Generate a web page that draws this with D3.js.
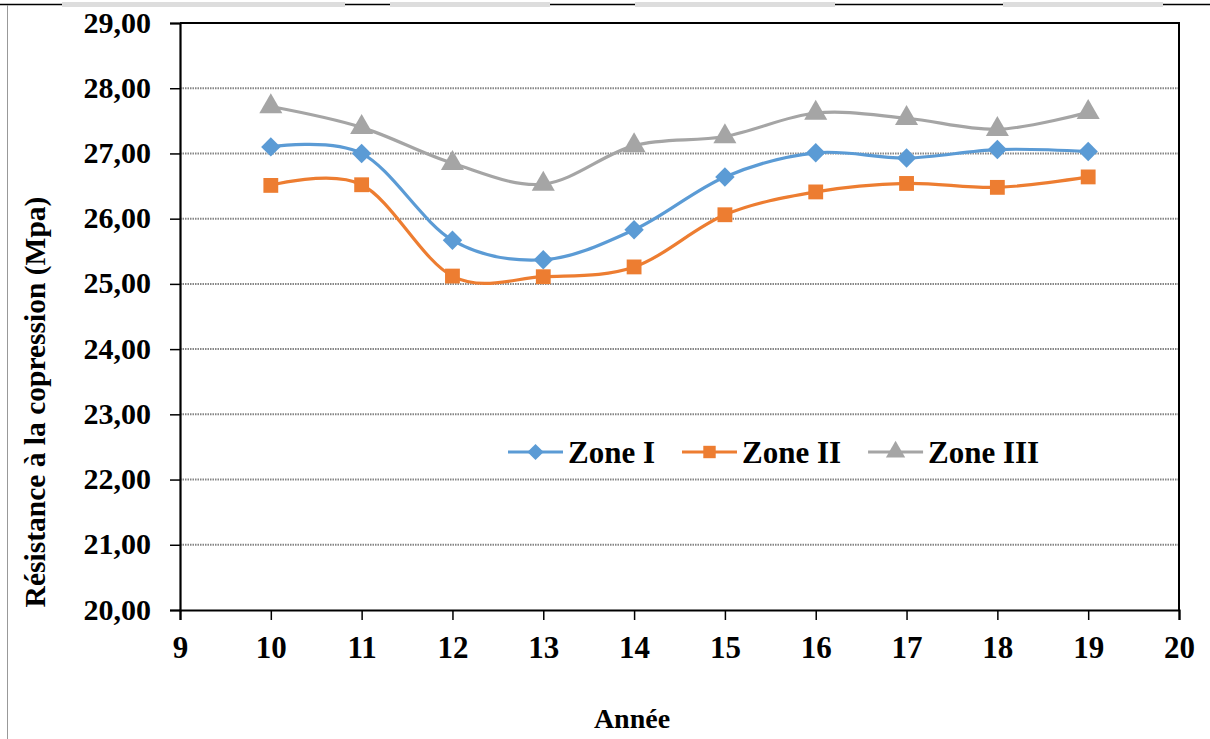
<!DOCTYPE html>
<html>
<head>
<meta charset="utf-8">
<script src="https://cdn.jsdelivr.net/npm/d3@7"></script>
<style>
  html, body { margin: 0; padding: 0; background: #fff; }
  svg { display: block; }
  text { font-family: "Liberation Serif", "Times New Roman", serif; font-weight: bold; fill: #000; }
</style>
</head>
<body>
<svg id="chart" width="1210" height="739"></svg>
<script>
// Years on the x axis and compressive strength per zone (MPa)
const years = [10, 11, 12, 13, 14, 15, 16, 17, 18, 19];
const zoneI   = [27.10, 27.00, 25.67, 25.37, 25.83, 26.64, 27.01, 26.93, 27.06, 27.03];
const zoneII  = [26.51, 26.52, 25.12, 25.11, 25.26, 26.06, 26.41, 26.54, 26.48, 26.64];
const zoneIII = [27.72, 27.40, 26.85, 26.53, 27.12, 27.26, 27.62, 27.54, 27.37, 27.63];
const seriesNames = ["Zone I", "Zone II", "Zone III"];
const xTicks = [9, 10, 11, 12, 13, 14, 15, 16, 17, 18, 19, 20];
const yTicks = [20, 21, 22, 23, 24, 25, 26, 27, 28, 29];

const series = [
  { name: seriesNames[0], values: zoneI,   color: "#5B9BD5", symbol: d3.symbolDiamond2, size: 240 },
  { name: seriesNames[1], values: zoneII,  color: "#ED7D31", symbol: d3.symbolSquare,   size: 220 },
  { name: seriesNames[2], values: zoneIII, color: "#A5A5A5", symbol: d3.symbolTriangle, size: 230 }
];

const svg = d3.select("#chart");
const plot = { left: 180, right: 1179, top: 23, bottom: 610 };

const x = d3.scaleLinear().domain([9, 20]).range([plot.left, plot.right]);
const y = d3.scaleLinear().domain([20, 29]).range([plot.bottom, plot.top]);
const fmt = v => d3.format(".2f")(v).replace(".", ",");

// outer frame fragments
svg.append("line").attr("x1", 0).attr("x2", 1210).attr("y1", 4.5).attr("y2", 4.5)
  .attr("stroke", "#000").attr("stroke-width", 1.5);
[[62, 345], [390, 550], [635, 835], [1003, 1163]].forEach(([a, b]) => {
  svg.append("rect").attr("x", a).attr("y", 2).attr("width", b - a).attr("height", 5).attr("fill", "#ddd");
});
svg.append("line").attr("x1", 7.5).attr("x2", 7.5).attr("y1", 5).attr("y2", 739)
  .attr("stroke", "#999").attr("stroke-width", 1);

// horizontal gridlines
svg.append("g").selectAll("line")
  .data(yTicks.filter(t => t > 20 && t < 29))
  .join("line")
  .attr("x1", plot.left).attr("x2", plot.right)
  .attr("y1", d => y(d)).attr("y2", d => y(d))
  .attr("stroke", "#858585").attr("stroke-width", 2).attr("stroke-dasharray", "1.5,1");

// plot frame (top and right)
svg.append("path")
  .attr("d", `M${plot.left},${plot.top}H${plot.right}V${plot.bottom}`)
  .attr("fill", "none").attr("stroke", "#000").attr("stroke-width", 2);

// y axis
const yAxis = svg.append("g").attr("transform", `translate(${plot.left},0)`)
  .call(d3.axisLeft(y).tickValues(yTicks).tickFormat(fmt).tickSize(10).tickPadding(19));
yAxis.select(".domain").attr("stroke", "#000").attr("stroke-width", 2.2);
yAxis.selectAll(".tick line").attr("stroke", "#000").attr("stroke-width", 1.5);
yAxis.selectAll("text").style("font-size", "30px").style("font-family", "Liberation Serif").style("font-weight", "bold").attr("dy", "0.3em");

// x axis
const xAxis = svg.append("g").attr("transform", `translate(0,${plot.bottom})`)
  .call(d3.axisBottom(x).tickValues(xTicks).tickFormat(d3.format("d")).tickSize(10).tickPadding(16));
xAxis.select(".domain").attr("stroke", "#000").attr("stroke-width", 2.2);
xAxis.selectAll(".tick line").attr("stroke", "#000").attr("stroke-width", 1.5);
xAxis.selectAll("text").style("font-size", "31px").style("font-family", "Liberation Serif").style("font-weight", "bold").attr("dy", "0.71em");

// axis titles
svg.append("text").attr("x", 632).attr("y", 728).attr("text-anchor", "middle")
  .style("font-size", "28px").text("Année");
svg.append("text").attr("transform", "translate(45,402) rotate(-90)").attr("text-anchor", "middle")
  .style("font-size", "29.5px").text("Résistance à la copression (Mpa)");

// smoothed series lines and markers
const line = d3.line().x((d, i) => x(years[i])).y(d => y(d)).curve(d3.curveCatmullRom.alpha(0));

series.forEach(s => {
  svg.append("path").datum(s.values)
    .attr("d", line).attr("fill", "none")
    .attr("stroke", s.color).attr("stroke-width", 3.2);
});
series.forEach(s => {
  svg.append("g").selectAll("path")
    .data(s.values)
    .join("path")
    .attr("transform", (d, i) => `translate(${x(years[i])},${y(d)})`)
    .attr("d", d3.symbol().type(s.symbol).size(s.size))
    .attr("fill", s.color);
});

// legend
const legend = svg.append("g");
let lx = 508;
const ly = 452;
series.forEach(s => {
  legend.append("line").attr("x1", lx).attr("x2", lx + 55).attr("y1", ly).attr("y2", ly)
    .attr("stroke", s.color).attr("stroke-width", 3.2);
  legend.append("path").attr("transform", `translate(${lx + 27.5},${ly})`)
    .attr("d", d3.symbol().type(s.symbol).size(s.size * 0.7)).attr("fill", s.color);
  const t = legend.append("text").attr("x", lx + 60).attr("y", ly + 11)
    .style("font-size", "31px").text(s.name);
  lx += 60 + t.node().getComputedTextLength() + 27;
});
</script>
</body>
</html>
